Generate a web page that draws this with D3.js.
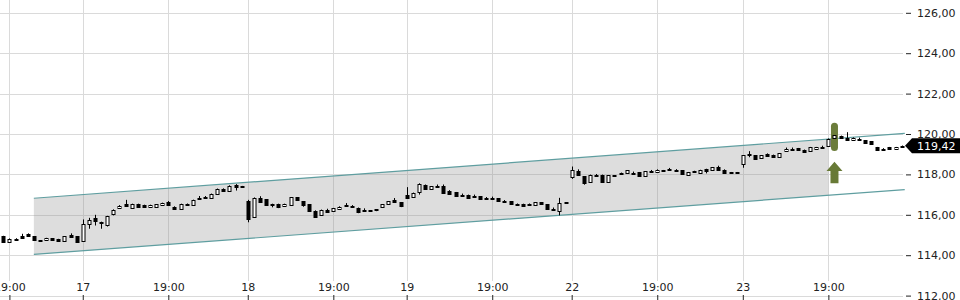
<!DOCTYPE html>
<html>
<head>
<meta charset="utf-8">
<script src="https://cdn.jsdelivr.net/npm/d3@7"></script>
<style>
  body { margin: 0; background: #fff; }
  svg { display: block; font-family: "DejaVu Sans", sans-serif; }
</style>
</head>
<body>
<script>
// Kerzen (Index = Position auf der Zeitachse)
var open = [114.94,114.64,114.77,114.97,115.05,114.94,114.74,114.74,114.83,114.80,114.70,115.00,114.93,114.68,115.55,115.85,115.65,115.50,116.05,116.35,
  116.51,116.36,116.54,116.49,116.38,116.40,116.48,116.62,116.41,116.30,116.55,116.49,116.84,116.88,116.84,117.04,117.29,117.20,117.50,117.43,
  116.67,115.88,116.84,116.76,116.54,116.54,116.42,116.49,116.87,116.67,116.51,116.21,115.97,116.26,116.21,116.30,116.48,116.42,116.35,116.26,
  116.22,116.27,116.41,116.51,116.74,116.62,116.96,116.87,117.15,117.49,117.30,117.45,117.45,117.17,117.12,117.00,116.99,116.95,116.92,116.83,
  116.85,116.82,116.68,116.67,116.52,116.54,116.52,116.49,116.62,116.51,116.30,116.21,116.63,117.86,118.15,117.91,117.62,117.96,117.98,117.62,
  117.96,118.08,118.08,118.09,118.11,117.90,118.17,118.13,118.21,118.25,118.21,118.20,117.99,118.17,118.08,118.27,118.22,118.35,118.24,118.12,
  118.12,118.53,119.03,118.94,118.83,118.99,118.97,118.88,119.14,119.28,119.30,119.22,119.14,119.24,119.38,119.43,119.80,119.88,119.80,119.68,
  119.77,119.68,119.63,119.35,119.27,119.35,119.24,119.41];
var high = [114.96,114.83,114.84,115.06,115.08,114.95,114.75,114.86,114.84,114.81,114.94,115.08,114.95,115.77,115.85,116.00,115.66,115.95,116.27,116.48,
  116.74,116.55,116.55,116.50,116.50,116.53,116.60,116.68,116.42,116.55,116.56,116.75,116.93,116.93,117.05,117.30,117.31,117.46,117.52,117.43,
  116.74,116.86,116.92,116.77,116.55,116.55,116.55,116.88,116.88,116.68,116.52,116.22,116.26,116.30,116.34,116.42,116.58,116.48,116.36,116.32,
  116.23,116.28,116.52,116.67,116.83,116.63,117.37,117.10,117.56,117.50,117.42,117.50,117.50,117.22,117.13,117.05,117.00,117.00,116.93,116.88,
  116.90,116.83,116.73,116.68,116.56,116.55,116.56,116.63,116.63,116.52,116.36,116.84,116.63,118.39,118.25,117.92,117.99,118.02,117.99,117.96,
  117.97,118.09,118.21,118.14,118.12,118.16,118.22,118.25,118.22,118.32,118.26,118.21,118.12,118.18,118.23,118.28,118.36,118.43,118.25,118.12,
  118.12,118.95,119.15,118.95,118.95,119.04,118.98,119.06,119.33,119.33,119.31,119.23,119.36,119.36,119.42,119.78,119.94,119.92,120.09,119.83,
  119.82,119.69,119.64,119.36,119.30,119.36,119.36,119.43];
var low = [114.62,114.62,114.76,114.85,114.96,114.73,114.72,114.73,114.73,114.69,114.69,114.89,114.62,114.66,115.31,115.47,115.31,115.42,115.97,116.34,
  116.42,116.30,116.37,116.40,116.37,116.39,116.45,116.48,116.29,116.29,116.52,116.48,116.75,116.85,116.83,117.03,117.15,117.13,117.20,117.41,
  115.63,115.86,116.61,116.48,116.37,116.33,116.41,116.47,116.70,116.40,116.20,115.87,115.96,116.12,116.20,116.29,116.47,116.40,116.08,116.23,
  116.19,116.18,116.40,116.50,116.61,116.38,116.83,116.86,117.00,117.28,117.29,117.36,117.08,117.03,116.91,116.93,116.83,116.91,116.78,116.80,
  116.82,116.66,116.65,116.53,116.49,116.45,116.49,116.48,116.50,116.26,116.26,115.97,116.61,117.78,117.94,117.49,117.61,117.88,117.61,117.61,
  117.93,118.02,118.07,118.02,117.89,117.89,118.14,118.12,118.18,118.22,118.18,118.02,117.98,118.14,118.07,118.05,118.21,118.23,118.05,118.10,
  118.10,118.33,118.85,118.73,118.82,118.89,118.87,118.87,119.13,119.25,119.21,119.06,119.13,119.23,119.31,119.42,119.79,119.81,119.67,119.67,
  119.67,119.56,119.51,119.18,119.21,119.24,119.23,119.40];
var close = [114.64,114.81,114.79,114.86,114.97,114.74,114.73,114.83,114.74,114.70,114.93,114.90,114.64,115.55,115.72,115.67,115.62,115.93,116.25,116.46,
  116.43,116.54,116.38,116.41,116.49,116.52,116.59,116.49,116.30,116.54,116.53,116.74,116.76,116.86,117.04,117.29,117.20,117.45,117.37,117.41,
  115.80,116.84,116.62,116.49,116.50,116.41,116.54,116.87,116.71,116.49,116.21,115.88,116.25,116.13,116.33,116.41,116.50,116.40,116.13,116.24,
  116.20,116.25,116.51,116.66,116.62,116.46,116.84,117.09,117.54,117.29,117.41,117.37,117.09,117.04,116.92,116.98,116.84,116.92,116.79,116.81,
  116.83,116.67,116.66,116.54,116.50,116.46,116.50,116.62,116.51,116.30,116.27,116.57,116.61,118.24,117.95,117.58,117.98,117.94,117.62,117.95,
  117.94,118.03,118.20,118.07,117.90,118.15,118.15,118.24,118.19,118.23,118.19,118.03,118.11,118.15,118.22,118.16,118.35,118.24,118.06,118.10,
  118.10,118.94,119.01,118.74,118.94,118.90,118.88,119.05,119.27,119.26,119.22,119.10,119.35,119.35,119.32,119.77,119.93,119.82,119.68,119.82,
  119.70,119.57,119.52,119.22,119.22,119.25,119.35,119.42];

// Zeitachse
var xTickIdx = [1, 13, 27, 40, 54, 66, 80, 93, 107, 121, 135];
var xTickLabels = ["19:00", "17", "19:00", "18", "19:00", "19", "19:00", "22", "19:00", "23", "19:00"];
var yTicks = [112, 114, 116, 118, 120, 122, 124, 126];

// Trendkanal
var channelIdx = [5, 135, 147.5];
var channelUpper = [116.82, 119.745, 120.03];
var channelLower = [114.04, 116.965, 117.25];

// Signal
var signalIdx = 136;
var signalPill = [120.56, 119.16];
var signalArrow = [118.63, 118.17, 117.56];
var lastPrice = 119.42;

var width = 960, height = 300;
var plotRight = 903;

var svg = d3.select("body").append("svg")
    .attr("width", width)
    .attr("height", height);

var x = d3.scaleLinear()
    .domain([0, open.length - 1])
    .range([3.3, 901.7]);

var y = d3.scaleLinear()
    .domain([112, 126])
    .range([295.6, 12.8]);

var fmt = d => d.toFixed(2).replace(".", ",");

// Gitternetz
svg.append("g").selectAll("line")
    .data(yTicks)
    .enter().append("line")
    .attr("x1", 0).attr("x2", plotRight)
    .attr("y1", d => Math.round(y(d)) + 0.5)
    .attr("y2", d => Math.round(y(d)) + 0.5)
    .attr("stroke", "#dadada");

svg.append("g").selectAll("line")
    .data(xTickIdx)
    .enter().append("line")
    .attr("x1", d => Math.round(x(d)) + 0.5)
    .attr("x2", d => Math.round(x(d)) + 0.5)
    .attr("y1", 0).attr("y2", 281)
    .attr("stroke", "#dadada");

// Kanalfläche (bis zur Signalkerze)
var fillPts = [];
fillPts.push([x(channelIdx[0]), y(channelUpper[0])]);
fillPts.push([x(channelIdx[1]), y(channelUpper[1])]);
fillPts.push([x(channelIdx[1]), y(channelLower[1])]);
fillPts.push([x(channelIdx[0]), y(channelLower[0])]);
svg.append("polygon")
    .attr("points", fillPts.map(p => p.join(",")).join(" "))
    .attr("fill", "rgb(144,144,144)")
    .attr("fill-opacity", 0.3);

var line = d3.line().x(d => x(d[0])).y(d => y(d[1]));
[channelUpper, channelLower].forEach(arr => {
    svg.append("path")
        .attr("d", line([[channelIdx[0], arr[0]], [channelIdx[2], arr[2]]]))
        .attr("fill", "none")
        .attr("stroke", "#5f9ea0")
        .attr("stroke-width", 1.2);
});

// Signal-Markierung
var sx = x(signalIdx);
svg.append("rect")
    .attr("x", sx - 3.5)
    .attr("y", y(signalPill[0]))
    .attr("width", 7)
    .attr("height", y(signalPill[1]) - y(signalPill[0]))
    .attr("rx", 3.5)
    .attr("fill", "#6b7c3a");

var aTip = y(signalArrow[0]), aBase = y(signalArrow[1]), aEnd = y(signalArrow[2]);
svg.append("polygon")
    .attr("points", [
        [sx, aTip], [sx + 8, aBase], [sx + 4, aBase], [sx + 4, aEnd],
        [sx - 4, aEnd], [sx - 4, aBase], [sx - 8, aBase]
    ].map(p => p.join(",")).join(" "))
    .attr("fill", "#687a36");

// Kerzen
var candles = open.map((o, i) => ({i: i, o: o, h: high[i], l: low[i], c: close[i]}));
var cg = svg.append("g");
candles.forEach(d => {
    var cx = Math.round(x(d.i)) + 0.5;
    cg.append("line")
        .attr("x1", cx).attr("x2", cx)
        .attr("y1", y(d.h)).attr("y2", y(d.l))
        .attr("stroke", "#000");
    var top = Math.round(y(Math.max(d.o, d.c)));
    var bot = Math.round(y(Math.min(d.o, d.c)));
    var up = d.c >= d.o;
    cg.append("rect")
        .attr("x", cx - 1.5)
        .attr("y", top + 0.5)
        .attr("width", 3)
        .attr("height", Math.max(bot - top, 1))
        .attr("fill", up ? "#fff" : "#000")
        .attr("stroke", "#000");
});

// Achsen
var yAxis = svg.append("g")
    .attr("transform", `translate(${plotRight + 3},0)`)
    .call(d3.axisRight(y).tickValues(yTicks).tickSize(5).tickPadding(6).tickFormat(fmt));
yAxis.select(".domain").remove();
yAxis.selectAll("text").style("font-size", "11px").style("font-family", "DejaVu Sans").attr("fill", "#222");
yAxis.selectAll("line").attr("stroke", "#222");

var xAxis = svg.append("g")
    .attr("transform", "translate(0,300)")
    .call(d3.axisTop(x).tickValues(xTickIdx).tickSize(5).tickPadding(4)
        .tickFormat((d, i) => xTickLabels[i]));
xAxis.select(".domain").remove();
xAxis.selectAll("text").style("font-size", "11px").style("font-family", "DejaVu Sans").attr("fill", "#222");
xAxis.selectAll("line").attr("stroke", "#222");

// Kursmarke
var ly = y(lastPrice);
svg.append("polygon")
    .attr("points", [[905, ly], [912, ly - 7.5], [960, ly - 7.5], [960, ly + 7.5], [912, ly + 7.5]]
        .map(p => p.join(",")).join(" "))
    .attr("fill", "#000");
svg.append("text")
    .attr("x", 917)
    .attr("y", ly + 4)
    .attr("fill", "#fff")
    .style("font-size", "11px")
    .text(fmt(lastPrice));
</script>
</body>
</html>
